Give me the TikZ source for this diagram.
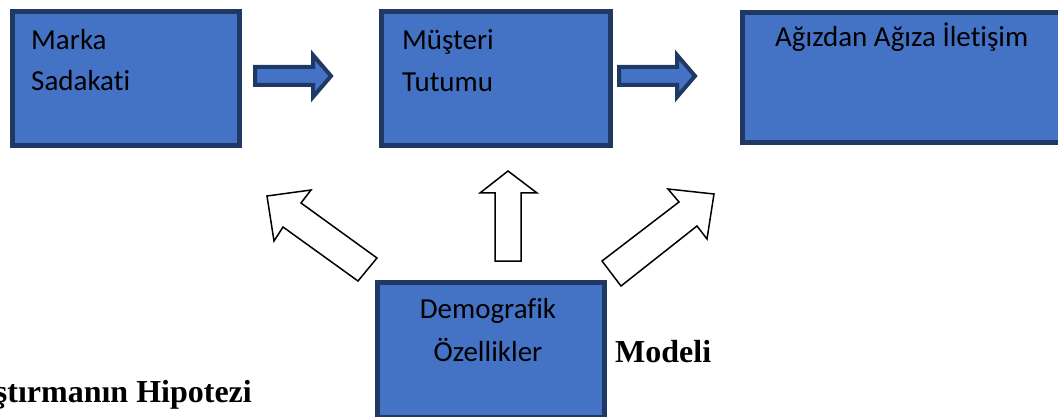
\documentclass[tikz,border=0pt]{standalone}
\usepackage{fontspec}
\setmainfont[Ligatures=NoCommon]{Carlito}
\newfontfamily\tnr{Liberation Serif}
\definecolor{boxfill}{HTML}{4472C4}
\definecolor{boxline}{HTML}{203864}
\begin{document}
\begin{tikzpicture}[x=1pt,y=-1pt,
  box/.style={draw=boxline,fill=boxfill,line width=5pt,rectangle,inner sep=0pt,anchor=north west},
  lbl/.style={inner sep=0pt,font=\fontsize{29}{33}\selectfont,text=black},
  blockarrow/.style={draw=boxline,fill=boxfill,line width=4pt,line join=miter},
  hollowarrow/.style={draw=black,fill=white,line width=1.5pt,line join=miter},
  captiontext/.style={inner sep=0pt,font=\tnr\bfseries\fontsize{32}{36}\selectfont,text=black}]
\useasboundingbox (0,0) rectangle (1058,417);
\begin{scope}
\clip (0,0) rectangle (1058,417);
% boxes
\node[box,minimum width=227pt,minimum height=134pt] (marka) at (9.5,9.5) {};
\node[box,minimum width=229pt,minimum height=134pt] (musteri) at (378.5,9.5) {};
\node[box,minimum width=326pt,minimum height=130pt] (agiz) at (739.5,10.5) {};
\node[box,minimum width=227pt,minimum height=135pt] (demo) at (374.5,279.5) {};
% texts
\node[lbl,anchor=base west] (t1a) at (31,50) {Marka};
\node[lbl,anchor=base west] (t1b) at (31,91) {Sadakati};
\node[lbl,anchor=base west] (t2a) at (402,50) {Müşteri};
\node[lbl,anchor=base west] (t2b) at (402,92) {Tutumu};
\node[lbl,anchor=base west] (t3) at (775,47) {Ağızdan Ağıza İletişim};
\node[lbl,anchor=base] (t4a) at (488,318) {Demografik};
\node[lbl,anchor=base] (t4b) at (488,361) {Özellikler};
% block arrows
\draw[blockarrow] (255,67) -- (313,67) -- (313,55) -- (331,76) -- (313,97) -- (313,85) -- (255,85) -- cycle;
\draw[blockarrow] (619,67) -- (677,67) -- (677,55) -- (695,76) -- (677,97) -- (677,85) -- (619,85) -- cycle;
% hollow arrows
\draw[hollowarrow] (508,171) -- (537,193) -- (521,193) -- (521,261) -- (495,261) -- (495,193) -- (480,193) -- cycle;
\draw[hollowarrow] (267,196) -- (311,190) -- (301,203) -- (377,258) -- (358,281) -- (283,227) -- (274,241) -- cycle;
\draw[hollowarrow] (714,194) -- (668,189) -- (679,202) -- (602,261) -- (621,286) -- (697,226) -- (707,239) -- cycle;
% caption fragments
\node[captiontext,anchor=base west] (modeli) at (615,362) {Modeli};
\node[captiontext,anchor=base east] (hipotez) at (252,402) {ştırmanın Hipotezi};
\end{scope}
\end{tikzpicture}
\end{document}
